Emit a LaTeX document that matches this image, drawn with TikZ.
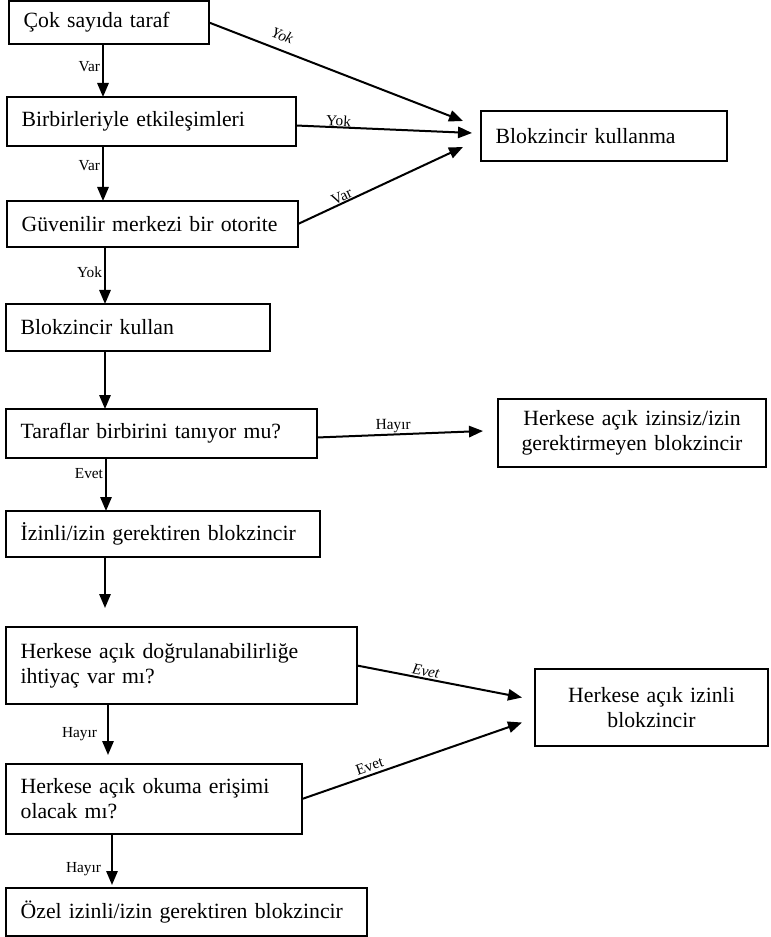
\documentclass[tikz,border=0pt]{standalone}
\usepackage{fontspec}
\setmainfont{Liberation Serif}
\usetikzlibrary{arrows.meta}

\tikzset{every picture/.style={line width=0.75pt}}
\tikzset{
  kutu/.style={draw, line width=1pt, anchor=north west, outer sep=0pt, inner xsep=11pt, inner ysep=0pt, align=left, font=\fontsize{16.3}{18.75}\selectfont},
  ortakutu/.style={kutu, align=center},
  ok/.style={line width=1.5pt, -{Triangle[length=10.5pt,width=8.5pt]}},
  etiket/.style={font=\fontsize{11.5}{12}\selectfont, inner sep=1.5pt}
}

\begin{document}
\begin{tikzpicture}[x=0.75pt,y=0.75pt,yscale=-1,xscale=1]
\useasboundingbox (0,0) rectangle (770,937);

% Text Node
\node [kutu, text width=128pt, minimum height=32.25pt] (cok) at (9,1) {Çok sayıda taraf};
% Text Node
\node [kutu, text width=194.75pt, minimum height=36.75pt] (etki) at (7,97) {Birbirleriyle etkileşimleri};
% Text Node
\node [kutu, text width=196.25pt, minimum height=34.5pt] (guven) at (7,201) {Güvenilir merkezi bir otorite};
% Text Node
\node [kutu, text width=162.5pt, minimum height=37.5pt] (kullanma) at (481,111) {Blokzincir kullanma};
% Text Node
\node [kutu, text width=176pt, minimum height=35.25pt] (kullan) at (6,304) {Blokzincir kullan};
% Text Node
\node [kutu, text width=211.25pt, minimum height=36.75pt] (taraf) at (6,409) {Taraflar birbirini tanıyor mu?};
% Text Node
\node [ortakutu, text width=179pt, minimum height=51pt] (izinsiz) at (498,399) {Herkese açık izinsiz/izin\\gerektirmeyen blokzincir};
% Text Node
\node [kutu, text width=213.5pt, minimum height=34.5pt] (izinli) at (6,511) {İzinli/izin gerektiren blokzincir};
% Text Node
\node [kutu, text width=241.25pt, minimum height=57.75pt] (dogru) at (6,627) {Herkese açık doğrulanabilirliğe\\ihtiyaç var mı?};
% Text Node
\node [ortakutu, text width=152.75pt, minimum height=57.75pt] (acik) at (535,669) {Herkese açık izinli\\blokzincir};
% Text Node
\node [kutu, text width=200pt, minimum height=52.5pt] (okuma) at (6,764) {Herkese açık okuma erişimi\\olacak mı?};
% Text Node
\node [kutu, text width=248.75pt, minimum height=36pt] (ozel) at (6,888) {Özel izinli/izin gerektiren blokzincir};

% Connection
\draw [ok] (cok.south -| 103,0) -- (etki.north -| 103,0) node [etiket, left, pos=0.42] {Var};
% Connection
\draw [ok] (etki.south -| 103,0) -- (guven.north -| 103,0) node [etiket, left, pos=0.35] {Var};
% Connection
\draw [ok] (guven.south -| 105,0) -- (kullan.north -| 105,0) node [etiket, left, pos=0.44] {Yok};
% Connection
\draw [ok] (kullan.south -| 105,0) -- (taraf.north -| 105,0);
% Connection
\draw [ok] (taraf.south -| 106,0) -- (izinli.north -| 106,0) node [etiket, left, pos=0.3] {Evet};
% Connection
\draw [ok, shorten >=14.25pt] (izinli.south -| 105,0) -- (dogru.north -| 105,0);
% Connection
\draw [ok, shorten >=6.75pt] (dogru.south -| 108,0) -- (okuma.north -| 108,0) node [etiket, left, pos=0.5, xshift=-6pt] {Hayır};
% Connection
\draw [ok, shorten >=2.25pt] (okuma.south -| 112,0) -- (ozel.north -| 112,0) node [etiket, left, pos=0.65, xshift=-6pt] {Hayır};

% Connection
\draw [ok] (cok.east) -- ([shift={(-18,-15)}]kullanma.west) node [etiket, rotate=-21, above, pos=0.27, inner sep=6pt] {\textit{Yok}};
% Connection
\draw [ok] ([shift={(0,4)}]etki.east) -- ([shift={(-9,-3)}]kullanma.west) node [etiket, rotate=-3.5, above, pos=0.24, inner sep=0pt] {Yok};
% Connection
\draw [ok] (guven.east) -- ([shift={(-18,11)}]kullanma.west) node [etiket, rotate=25, above, pos=0.28, inner sep=0pt] {Var};
% Connection
\draw [ok] ([shift={(0,4)}]taraf.east) -- ([shift={(-15,-2)}]izinsiz.west) node [etiket, rotate=1, above, pos=0.46, inner sep=0.5pt] {Hayır};
% Connection
\draw [ok] (dogru.east) -- ([shift={(-13,-10)}]acik.west) node [etiket, rotate=-11, above, pos=0.41, inner sep=1pt] {\textit{Evet}};
% Connection
\draw [ok] (okuma.east) -- ([shift={(-13,15)}]acik.west) node [etiket, rotate=19, above, pos=0.32, inner sep=2pt] {Evet};

\end{tikzpicture}
\end{document}
